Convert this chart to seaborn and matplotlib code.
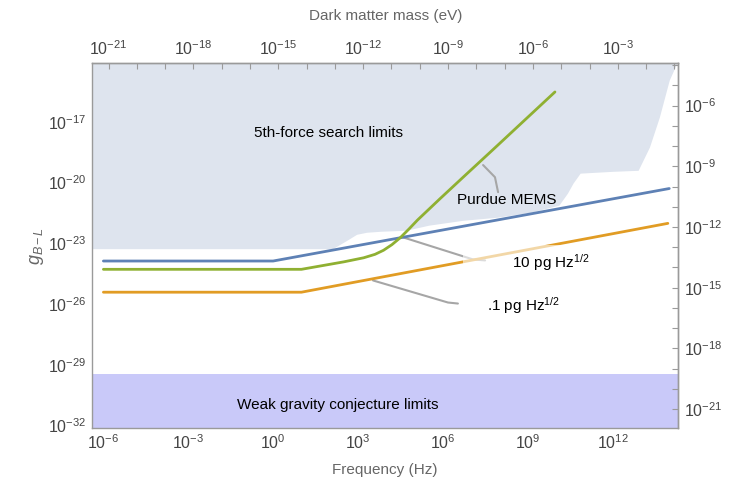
import matplotlib
matplotlib.use("Agg")
import matplotlib.pyplot as plt
import matplotlib.ticker as mticker
import seaborn as sns
import pandas as pd
import numpy as np

# ---- values (log10 units) ----
# sensitivity curves: log10 frequency (Hz) / log10 g_B-L
blue_logf = [-6.0, 0.0, 14.0]
blue_logg = [-23.88, -23.88, -20.30]

orange_logf = [-6.0, 1.0, 13.95]
orange_logg = [-25.42, -25.42, -22.02]

green_logf = [-6.0, 1.0, 2.5, 3.2, 3.6, 3.9, 4.2, 4.5, 4.8, 5.1, 5.9, 6.7, 7.8, 9.96]
green_logg = [-24.29, -24.29, -23.92, -23.72, -23.55, -23.35, -23.07, -22.72, -22.30,
              -21.86, -20.80, -19.76, -18.34, -15.53]

# 5th-force exclusion boundary (shaded above)
fifth_logf = [-6.5, 2.1, 2.6, 2.95, 3.3, 3.8, 4.7, 5.5, 6.7, 7.9, 9.1, 10.1, 10.4,
              10.6, 10.85, 12.0, 12.9, 13.3, 13.65, 14.0, 14.27]
fifth_logg = [-23.27, -23.27, -22.86, -22.56, -22.46, -22.41, -22.36, -22.11, -21.87,
              -21.72, -21.47, -21.12, -20.53, -20.03, -19.54, -19.45, -19.40, -18.25,
              -16.77, -14.94, -14.10]

wgc_top_logg = -29.44            # weak gravity conjecture limit

HBAR_EVS = 6.582e-16             # frequency -> dark matter mass (eV)
RIGHT_SHIFT = 10 ** 10.2         # right-hand coupling axis offset

xlim_log = (-6.39, 14.31)
ylim_log = (-32.12, -14.12)

colors = {"blue": "#5e81b5", "orange": "#e19c24", "green": "#8fb032"}

sns.set_theme(style="white")
plt.rcParams["font.family"] = ["Liberation Sans", "DejaVu Sans"]
plt.rcParams["mathtext.fontset"] = "custom"
plt.rcParams["mathtext.rm"] = "Liberation Sans"
plt.rcParams["mathtext.it"] = "Liberation Sans:italic"
plt.rcParams["mathtext.bf"] = "Liberation Sans:bold"

fig = plt.figure(figsize=(7.33, 4.84), dpi=100)
ax = fig.add_axes([0.126, 0.116, 0.799, 0.753])
ax.set_xscale("log")
ax.set_yscale("log")
ax.set_xlim(10 ** xlim_log[0], 10 ** xlim_log[1])
ax.set_ylim(10 ** ylim_log[0], 10 ** ylim_log[1])

# shaded regions
fx = 10 ** np.array(fifth_logf)
fy = 10 ** np.array(fifth_logg)
ax.fill_between(fx, fy, 1e-12, color="#dee4ee", lw=0, zorder=0)
ax.axhspan(1e-34, 10 ** wgc_top_logg, color="#c9c9f9", lw=0, zorder=0)

# curves
rows = []
for name, lf, lg in [("blue", blue_logf, blue_logg),
                     ("green", green_logf, green_logg),
                     ("orange", orange_logf, orange_logg)]:
    for a, b in zip(lf, lg):
        rows.append({"curve": name, "freq": 10 ** a, "g": 10 ** b})
df = pd.DataFrame(rows)
sns.lineplot(data=df, x="freq", y="g", hue="curve", palette=colors,
             estimator=None, sort=False, legend=False, lw=2, ax=ax, zorder=3)
ax.set_xlabel("")
ax.set_ylabel("")

# callout leaders
callouts = [
    ([7.42, 7.84, 7.95], [-19.14, -19.74, -20.48]),
    ([4.59, 7.06, 7.49], [-22.71, -23.80, -23.85]),
    ([3.53, 6.18, 6.53], [-24.84, -25.93, -25.98]),
]
for lf, lg in callouts:
    ax.plot(10 ** np.array(lf), 10 ** np.array(lg), color="#a6a6a6", lw=1.5, zorder=2)

txt = dict(fontsize=11, color="black", zorder=5)
ax.text(10 ** 1.95, 10 ** -17.56, "5th-force search limits", ha="center", va="center", **txt)
ax.text(10 ** 2.3, 10 ** -30.98, "Weak gravity conjecture limits", ha="center", va="center", **txt)
ax.text(10 ** 8.26, 10 ** -20.88, "Purdue MEMS", ha="center", va="center", **txt)
# label box (semi-opaque) also washes out the orange curve behind it
ax.text(10 ** 6.95, 10 ** -23.95, "          10 pg Hz$^{1/2}$", ha="left", va="center",
        bbox=dict(boxstyle="square,pad=0.45", fc="white", ec="none", alpha=0.6), **txt)
ax.text(10 ** 7.56, 10 ** -26.07, r".1 pg Hz$^{1/2}$", ha="left", va="center", **txt)

# ticks / frame
spine_c = "#9a9a9a"
lab_c = "#444444"


def decade_fmt(mod):
    def f(v, pos):
        e = int(round(np.log10(v)))
        return r"$10^{%d}$" % e if e % 3 == mod else ""
    return mticker.FuncFormatter(f)


ax.xaxis.set_major_locator(mticker.FixedLocator([10.0 ** e for e in range(-6, 15)]))
ax.xaxis.set_major_formatter(decade_fmt(0))
ax.yaxis.set_major_locator(mticker.FixedLocator([10.0 ** e for e in range(-32, -14)]))
ax.yaxis.set_major_formatter(decade_fmt(1))
ax.xaxis.set_minor_locator(mticker.NullLocator())
ax.yaxis.set_minor_locator(mticker.NullLocator())

top = ax.secondary_xaxis("top", functions=(lambda f: f * HBAR_EVS, lambda m: m / HBAR_EVS))
top.xaxis.set_major_locator(mticker.FixedLocator([10.0 ** e for e in range(-21, 0)]))
top.xaxis.set_major_formatter(decade_fmt(0))
top.xaxis.set_minor_locator(mticker.NullLocator())

right = ax.secondary_yaxis("right", functions=(lambda g: g * RIGHT_SHIFT, lambda r: r / RIGHT_SHIFT))
right.yaxis.set_major_locator(mticker.FixedLocator([10.0 ** e for e in range(-21, -3)]))
right.yaxis.set_major_formatter(decade_fmt(0))
right.yaxis.set_minor_locator(mticker.NullLocator())

for a in (ax, top, right):
    a.tick_params(which="both", direction="in", length=4.5, width=0.8, color=spine_c,
                  labelcolor=lab_c, labelsize=11.5, pad=4)
    for s in a.spines.values():
        s.set_color(spine_c)
        s.set_linewidth(1.0)

ax.set_xlabel("Frequency (Hz)", fontsize=11, color="#666666", labelpad=8)
top.set_xlabel("Dark matter mass (eV)", fontsize=11, color="#666666", labelpad=14)
ax.set_ylabel(r"$g_{B-L}$", fontsize=13, color="#666666", labelpad=2)

fig.savefig("out.png", dpi=100)
